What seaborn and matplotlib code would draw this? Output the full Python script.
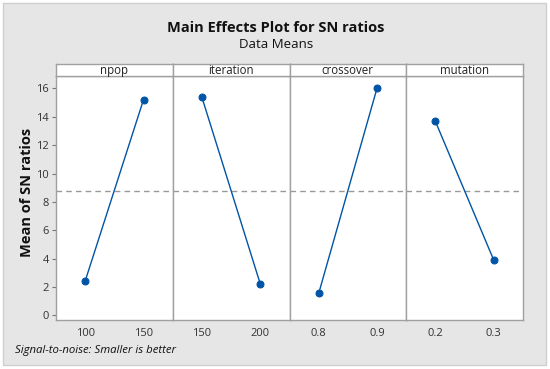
import matplotlib
matplotlib.use("Agg")
import matplotlib.pyplot as plt
from matplotlib.patches import Rectangle
import seaborn as sns
import pandas as pd

factors = ["npop", "iteration", "crossover", "mutation"]
levels = [["100", "150"], ["150", "200"], ["0.8", "0.9"], ["0.2", "0.3"]]
sn_means = [[2.42, 15.22], [15.37, 2.20], [1.54, 16.03], [13.67, 3.88]]
yticks = [0, 2, 4, 6, 8, 10, 12, 14, 16]

rows = []
for f, lv, vals in zip(factors, levels, sn_means):
    for l, v in zip(lv, vals):
        rows.append({"factor": f, "level": l, "value": v})
df = pd.DataFrame(rows)
overall = df["value"].mean()

sns.set_style("white")
plt.rcParams["font.family"] = ["Open Sans", "DejaVu Sans"]

W, H = 550, 369
fig = plt.figure(figsize=(W / 100, H / 100), dpi=100)
fig.patch.set_facecolor("white")
fig.patches.append(Rectangle((3 / W, 1 - 365 / H), 543 / W, 362 / H,
                             transform=fig.transFigure, facecolor="#e6e6e6",
                             edgecolor="#cfcfcf", linewidth=1, zorder=-10))

blue = "#0054a6"
edge = "#a0a0a0"
lefts = [56, 172.75, 289.5, 406.25]
pw = 116.75
top_px, bot_px, strip_top = 75.7, 319.5, 63.5

axes = []
for i, f in enumerate(factors):
    x0 = lefts[i]
    ax = fig.add_axes([x0 / W, 1 - bot_px / H, pw / W, (bot_px - top_px) / H])
    sub = df[df["factor"] == f]
    sns.pointplot(data=sub, x="level", y="value", order=levels[i], ax=ax,
                  color=blue, markers="o", markersize=5, linewidth=1.0)
    ax.axhline(overall, color="#999999", linestyle=(0, (4, 3)), linewidth=1, zorder=0)
    ax.set_ylim(-0.3, 16.9)
    ax.set_xlim(-0.5, 1.5)
    ax.set_xlabel("")
    ax.set_ylabel("")
    ax.set_facecolor("white")
    for s in ax.spines.values():
        s.set_color(edge)
        s.set_linewidth(1)
    ax.tick_params(axis="x", length=0, labelsize=8, pad=6, colors="#333333")
    if i == 0:
        ax.set_yticks(yticks)
        ax.tick_params(axis="y", length=3, width=0.8, color="#777777",
                       labelsize=8, pad=2, left=True, labelcolor="#333333")
    else:
        ax.set_yticks(yticks)
        ax.tick_params(axis="y", length=0, labelleft=False)
    # strip
    sax = fig.add_axes([x0 / W, 1 - top_px / H, pw / W, (top_px - strip_top) / H])
    sax.set_xticks([])
    sax.set_yticks([])
    sax.set_facecolor("white")
    for s in sax.spines.values():
        s.set_color(edge)
        s.set_linewidth(1)
    sax.text(0.5, 0.45, f, ha="center", va="center", fontsize=8.3, color="#222222",
             transform=sax.transAxes)
    axes.append(ax)

fig.text(27 / W, 1 - 192 / H, "Mean of SN ratios", rotation=90, ha="center",
         va="center", fontsize=10.5, fontweight="bold", color="#111111")
fig.text(276 / W, 1 - 28 / H, "Main Effects Plot for SN ratios", ha="center",
         va="center", fontsize=10.5, fontweight="bold", color="#111111")
fig.text(276 / W, 1 - 45 / H, "Data Means", ha="center", va="center",
         fontsize=9.5, color="#111111")
fig.text(15 / W, 1 - 350 / H, "Signal-to-noise: Smaller is better", ha="left",
         va="center", fontsize=8.2, style="italic", color="#111111")

fig.savefig("out.png", dpi=100)
